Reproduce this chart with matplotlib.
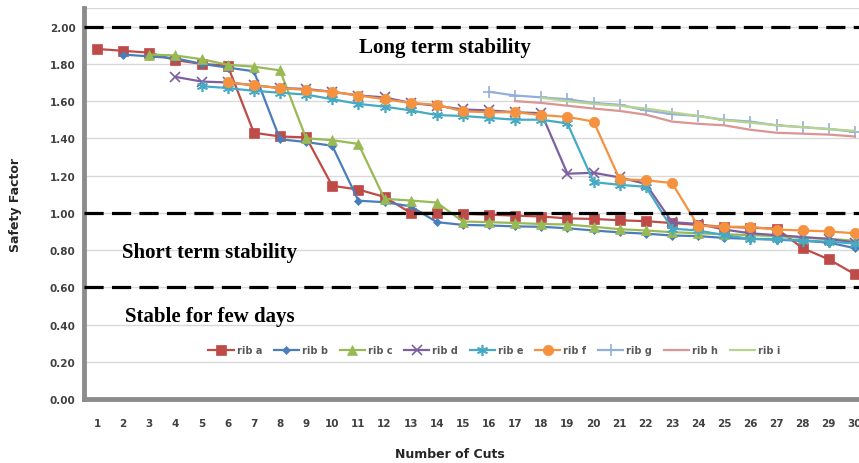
import numpy as np
import matplotlib
matplotlib.use("Agg")
from matplotlib import pyplot as plt

nan = np.nan
cuts = list(range(1, 31))

rib_a = [1.88, 1.87, 1.86, 1.82, 1.80, 1.79, 1.43, 1.41, 1.405, 1.145, 1.125, 1.085, 1.00, 1.00, 0.995,
         0.99, 0.985, 0.98, 0.97, 0.967, 0.96, 0.955, 0.945, 0.935, 0.925, 0.92, 0.915, 0.81, 0.75, 0.67]
rib_b = [nan, 1.85, 1.84, 1.83, 1.80, 1.78, 1.76, 1.395, 1.38, 1.36, 1.065, 1.057, 1.035, 0.95, 0.935,
         0.932, 0.927, 0.925, 0.917, 0.905, 0.895, 0.888, 0.878, 0.875, 0.865, 0.86, 0.855, 0.85, 0.84, 0.81]
rib_c = [nan, nan, 1.85, 1.845, 1.825, 1.795, 1.785, 1.765, 1.40, 1.39, 1.37, 1.075, 1.066, 1.055, 0.953,
         0.95, 0.945, 0.94, 0.937, 0.925, 0.912, 0.905, 0.896, 0.89, 0.885, 0.88, 0.875, 0.865, 0.86, 0.85]
rib_d = [nan, nan, nan, 1.73, 1.705, 1.70, 1.685, 1.67, 1.665, 1.65, 1.63, 1.62, 1.59, 1.575, 1.555,
         1.55, 1.54, 1.535, 1.21, 1.215, 1.19, 1.155, 0.95, 0.94, 0.91, 0.89, 0.88, 0.87, 0.86, 0.84]
rib_e = [nan, nan, nan, nan, 1.68, 1.67, 1.655, 1.645, 1.635, 1.61, 1.585, 1.57, 1.55, 1.525, 1.52,
         1.51, 1.50, 1.50, 1.48, 1.165, 1.15, 1.14, 0.915, 0.905, 0.88, 0.86, 0.86, 0.85, 0.845, 0.835]
rib_f = [nan, nan, nan, nan, nan, 1.70, 1.685, 1.67, 1.66, 1.65, 1.63, 1.61, 1.59, 1.58, 1.545,
         1.54, 1.54, 1.525, 1.515, 1.49, 1.18, 1.175, 1.16, 0.93, 0.925, 0.925, 0.91, 0.905, 0.90, 0.89]
rib_g = [nan] * 15 + [1.65, 1.63, 1.62, 1.61, 1.59, 1.58, 1.55, 1.53, 1.52, 1.50, 1.49, 1.47, 1.46, 1.45, 1.435]
rib_h = [nan] * 16 + [1.60, 1.59, 1.575, 1.56, 1.547, 1.527, 1.49, 1.478, 1.47, 1.446, 1.43, 1.425, 1.42, 1.41]
rib_i = [nan] * 17 + [1.618, 1.60, 1.585, 1.575, 1.56, 1.54, 1.52, 1.497, 1.484, 1.47, 1.46, 1.45, 1.44]

series = [
    ("rib a", rib_a, "#BE4B48", "s", 6.5),
    ("rib b", rib_b, "#4A7EBB", "D", 4.5),
    ("rib c", rib_c, "#98B954", "^", 7),
    ("rib d", rib_d, "#7D60A0", "x", 7),
    ("rib e", rib_e, "#46AAC5", (6, 2, 0), 8),
    ("rib f", rib_f, "#F59240", "o", 7.5),
    ("rib g", rib_g, "#94AEDB", "+", 8),
    ("rib h", rib_h, "#DB9593", None, 0),
    ("rib i", rib_i, "#B6D48E", None, 0),
]

fig = plt.figure(figsize=(8.59, 4.64), dpi=100)
ax = fig.add_axes([84 / 859, 64 / 464, 784 / 859, 391 / 464])

for name, vals, color, marker, ms in series:
    ax.plot(cuts, vals, color=color, marker=marker, markersize=ms, linewidth=1.6,
            markeredgewidth=1.2 if marker in ("x", "+", (6, 2, 0)) else 0.5,
            markeredgecolor=color, label=name, zorder=3)

# stability thresholds
for level in [2.0, 1.0, 0.6]:
    ax.axhline(level, color="black", linestyle=(0, (6, 2.6)), linewidth=2.3, zorder=4)

ax.set_xlim(0.5, 30.5)
ax.set_ylim(0, 2.1)
ax.set_yticks(np.arange(0, 2.01, 0.2))
ax.set_yticklabels([f"{v:.2f}" for v in np.arange(0, 2.01, 0.2)])
ax.set_xticks(cuts)
ax.grid(axis="y", color="#D9D9D9", linewidth=1)
ax.set_axisbelow(True)

for side in ["top", "right"]:
    ax.spines[side].set_visible(False)
ax.spines["left"].set_color("#8C8C8C")
ax.spines["left"].set_linewidth(3.5)
ax.spines["bottom"].set_color("#8C8C8C")
ax.spines["bottom"].set_linewidth(3.5)
ax.axhline(2.1, color="#D9D9D9", linewidth=1)

ax.tick_params(axis="both", length=0, labelsize=7.5, labelcolor="#404040")
ax.tick_params(axis="x", pad=14)
ax.tick_params(axis="y", pad=6)
for lbl in ax.get_xticklabels() + ax.get_yticklabels():
    lbl.set_fontweight("bold")

ax.set_ylabel("Safety Factor", fontsize=9, fontweight="bold", color="#262626", labelpad=20)
fig.text(450 / 859, 1 - 455 / 464, "Number of Cuts", fontsize=9, fontweight="bold",
         color="#262626", ha="center", va="center")

serif = ["Liberation Serif", "DejaVu Serif"]
ax.text(14.3, 1.89, "Long term stability", family=serif, fontsize=15, fontweight="bold",
        ha="center", va="center", zorder=5)
ax.text(1.96, 0.79, "Short term stability", family=serif, fontsize=15, fontweight="bold",
        ha="left", va="center", zorder=5)
ax.text(2.07, 0.445, "Stable for few days", family=serif, fontsize=15, fontweight="bold",
        ha="left", va="center", zorder=5)

leg = ax.legend(loc="center", bbox_to_anchor=(16.2, 0.263), bbox_transform=ax.transData,
                ncol=9, frameon=False, fontsize=7, handlelength=2.6, columnspacing=1.2,
                handletextpad=0.3, borderaxespad=0)
for t in leg.get_texts():
    t.set_fontweight("bold")
    t.set_color("#595959")

fig.savefig("out.png", dpi=100)
